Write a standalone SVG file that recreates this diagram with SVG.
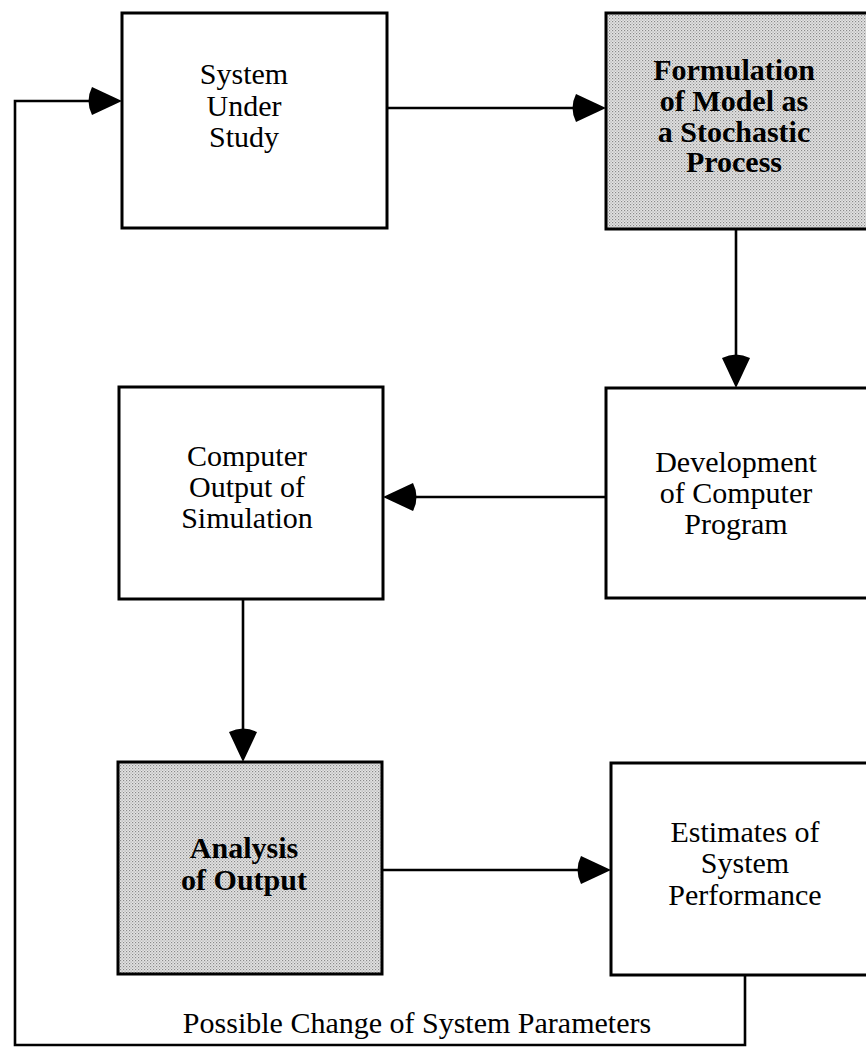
<svg xmlns="http://www.w3.org/2000/svg" width="866" height="1049" viewBox="0 0 866 1049">
  <style>
    .box { stroke: #000; stroke-width: 3; fill: #fff; }
    .shade { fill: url(#dots); }
    .lbl { font-family: "Liberation Serif", "Times New Roman", serif; font-size: 30px; fill: #000; text-anchor: middle; }
    .bold { font-weight: bold; font-size: 30px; }
    .conn { fill: none; stroke: #000; stroke-width: 2.6; }
  </style>
  <defs>
    <pattern id="dots" width="3" height="3" patternUnits="userSpaceOnUse">
      <rect width="3" height="3" fill="#e4e4e4"/>
      <rect x="0" y="0" width="1.2" height="1.2" fill="#8a8a8a"/>
      <rect x="1.5" y="1.5" width="1.2" height="1.2" fill="#a8a8a8"/>
    </pattern>
    <marker id="ah" viewBox="-40 -16 48 32" markerWidth="48" markerHeight="32" refX="-6" refY="0" markerUnits="userSpaceOnUse" orient="auto">
      <path d="M0,0 L-30,-14 Q-37,0 -30,14 Z" fill="#000"/>
    </marker>
  </defs>
  <rect width="866" height="1049" fill="#fff"/>

  <g id="connectors">
    <path class="conn" d="M745,975 V1045 H15 V101 H116" marker-end="url(#ah)"/>
    <path class="conn" d="M387,108 H600" marker-end="url(#ah)"/>
    <path class="conn" d="M736,229 V382" marker-end="url(#ah)"/>
    <path class="conn" d="M606,497 H389" marker-end="url(#ah)"/>
    <path class="conn" d="M243,599 V756" marker-end="url(#ah)"/>
    <path class="conn" d="M382,870 H605" marker-end="url(#ah)"/>
    <text class="lbl" x="417" y="1033">Possible Change of System Parameters</text>
  </g>

  <g id="system-under-study">
    <rect class="box" x="122" y="13" width="265" height="215"/>
    <text class="lbl" x="244" y="84">System</text>
    <text class="lbl" x="244" y="116">Under</text>
    <text class="lbl" x="244" y="147">Study</text>
  </g>

  <g id="formulation-of-model">
    <rect class="box shade" x="606" y="13" width="270" height="216"/>
    <text class="lbl bold" x="734" y="80">Formulation</text>
    <text class="lbl bold" x="734" y="111">of Model as</text>
    <text class="lbl bold" x="734" y="142">a Stochastic</text>
    <text class="lbl bold" x="734" y="172">Process</text>
  </g>

  <g id="development-of-program">
    <rect class="box" x="606" y="388" width="270" height="210"/>
    <text class="lbl" x="736" y="472">Development</text>
    <text class="lbl" x="736" y="503">of Computer</text>
    <text class="lbl" x="736" y="534">Program</text>
  </g>

  <g id="computer-output">
    <rect class="box" x="119" y="387" width="264" height="212"/>
    <text class="lbl" x="247" y="466">Computer</text>
    <text class="lbl" x="247" y="497">Output of</text>
    <text class="lbl" x="247" y="528">Simulation</text>
  </g>

  <g id="analysis-of-output">
    <rect class="box shade" x="118" y="762" width="264" height="212"/>
    <text class="lbl bold" x="244" y="858">Analysis</text>
    <text class="lbl bold" x="244" y="890">of Output</text>
  </g>

  <g id="estimates-of-performance">
    <rect class="box" x="611" y="763" width="265" height="212"/>
    <text class="lbl" x="745" y="842">Estimates of</text>
    <text class="lbl" x="745" y="873">System</text>
    <text class="lbl" x="745" y="905">Performance</text>
  </g>
</svg>
